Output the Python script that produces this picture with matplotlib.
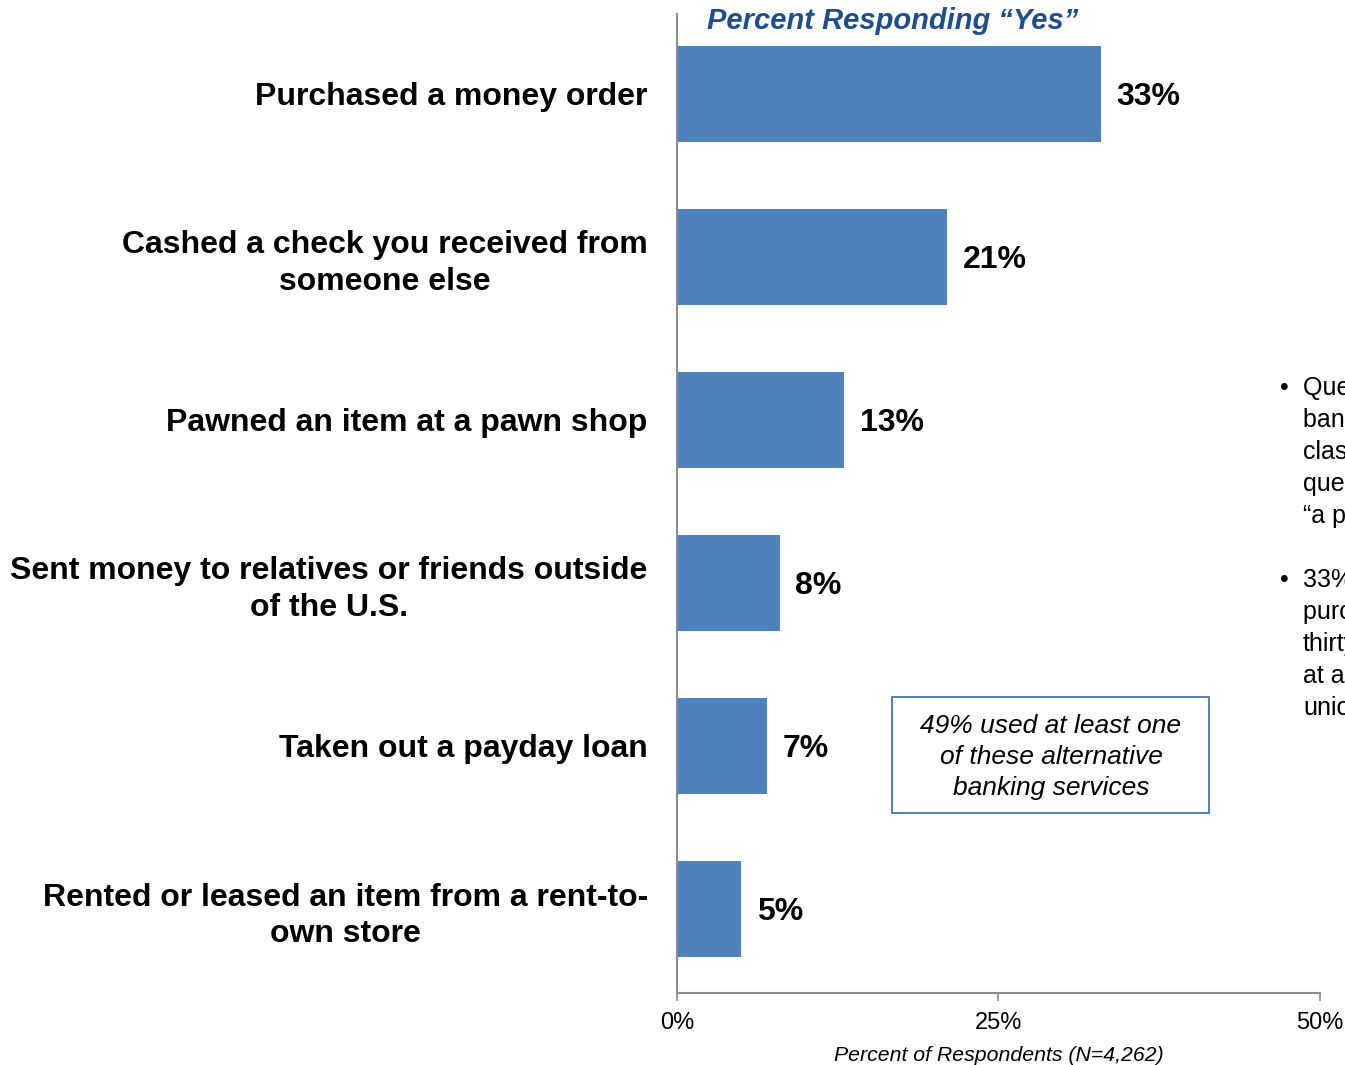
import matplotlib.pyplot as plt
from matplotlib.patches import Rectangle

plt.rcParams['font.family'] = ['Liberation Sans', 'DejaVu Sans']

# survey results, % answering "yes"
services = ['Purchased a money order',
            'Cashed a check you received from\nsomeone else',
            'Pawned an item at a pawn shop',
            'Sent money to relatives or friends outside\nof the U.S.',
            'Taken out a payday loan',
            'Rented or leased an item from a rent-to-\nown store']
pct_yes = [33, 21, 13, 8, 7, 5]
x_ticks = [0, 25, 50]
x_tick_labels = ['0%', '25%', '50%']

note_lines = ['Questions about', 'banking services', 'classified as', 'questions on',
              '\u201ca payday loan\u201d', '',
              '33% of respondents', 'purchased a money', 'thirty-three', 'at a bank or credit',
              'union']

bar_color = '#4F81BD'
axis_gray = '#8C8C8C'
W, H = 1345, 1065

fig = plt.figure(figsize=(13.45, 10.65), dpi=100)
ax = fig.add_axes([0.5033, 0.0676, 0.4781, 0.9193])

ypos = list(range(len(services)))
ax.barh(ypos, pct_yes, height=0.59, color=bar_color)
ax.set_ylim(len(services) - 0.4847, -0.4908)
ax.set_xlim(0, 50)

for y, v in zip(ypos, pct_yes):
    ax.text(v + 1.2, y + 0.02, f'{v}%', va='center', ha='left', fontsize=23, fontweight='bold')

ax.set_yticks(ypos)
ax.set_yticklabels(services, fontsize=23, fontweight='bold', multialignment='center',
                   linespacing=1.3)
ax.tick_params(axis='y', length=0, pad=21)

ax.set_xticks(x_ticks)
ax.set_xticklabels(x_tick_labels, fontsize=17)
ax.tick_params(axis='x', length=6, width=1.2, color=axis_gray, direction='out', pad=8)
ax.set_xlabel('Percent of Respondents (N=4,262)', fontsize=15.3, style='italic', labelpad=8)

for side in ('top', 'right'):
    ax.spines[side].set_visible(False)
for side in ('left', 'bottom'):
    ax.spines[side].set_color(axis_gray)
    ax.spines[side].set_linewidth(1.5)

fig.text(893 / W, 1 - 21 / H, 'Percent Responding \u201cYes\u201d', ha='center', va='center',
         fontsize=21, fontweight='bold', style='italic', color='#1F4E8C')

# call-out box
fig.patches.append(Rectangle((892 / W, 1 - 813 / H), 317 / W, 116 / H, transform=fig.transFigure,
                             facecolor='white', edgecolor=bar_color, linewidth=1.4))
fig.text(1051 / W, 1 - 757 / H, '49% used at least one\nof these alternative\nbanking services',
         ha='center', va='center', fontsize=19, style='italic', linespacing=1.38)

# side notes, cut off by the figure edge
y0 = 388
for i, line in enumerate(note_lines):
    yy = 1 - (y0 + i * 32) / H
    if line:
        fig.text(1303 / W, yy, line, ha='left', va='center', fontsize=18)
for i in (0, 6):
    fig.text(1284 / W, 1 - (y0 + i * 32) / H, '\u2022', ha='center', va='center', fontsize=18)

fig.savefig('out.png', dpi=100)
